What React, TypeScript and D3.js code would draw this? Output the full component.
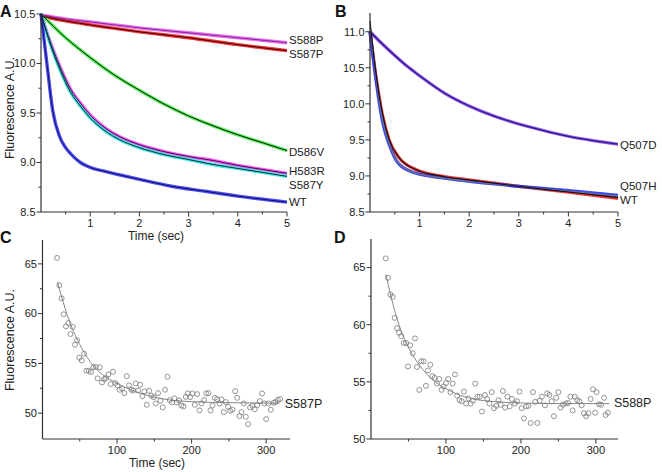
import React from "react";
import * as d3 from "d3";

type P = [number, number];

// ---------- Panel A (stopped-flow traces, Time in sec) ----------
const tickTimeAB = [1, 2, 3, 4, 5];
const minorTimeAB = [0.5, 1.5, 2.5, 3.5, 4.5];
const yTicksA = [8.5, 9.0, 9.5, 10.0, 10.5];
const yMinorA = [8.75, 9.25, 9.75, 10.25];

const s588pA: P[] = [[0, 10.49], [0.5, 10.45], [1, 10.42], [2, 10.36], [3, 10.31], [4, 10.26], [5, 10.21]];
const s587pA: P[] = [[0, 10.48], [0.5, 10.43], [1, 10.39], [2, 10.32], [3, 10.26], [4, 10.19], [5, 10.13]];
const d586vA: P[] = [[0, 10.5], [0.5, 10.26], [1, 10.06], [1.5, 9.88], [2, 9.73], [2.5, 9.59], [3, 9.47], [3.5, 9.37], [4, 9.28], [4.5, 9.2], [5, 9.12]];
const h583rA: P[] = [[0, 10.5], [0.2, 10.2], [0.4, 9.95], [0.6, 9.74], [0.8, 9.6], [1, 9.48], [1.3, 9.35], [1.6, 9.26], [2, 9.18], [2.5, 9.11], [3, 9.06], [3.5, 9.02], [4, 8.97], [4.5, 8.93], [5, 8.89]];
const s587yA: P[] = [[0, 10.5], [0.2, 10.18], [0.4, 9.92], [0.6, 9.71], [0.8, 9.57], [1, 9.45], [1.3, 9.32], [1.6, 9.23], [2, 9.15], [2.5, 9.08], [3, 9.03], [3.5, 8.98], [4, 8.94], [4.5, 8.9], [5, 8.86]];
const wtA: P[] = [[0, 10.5], [0.06, 10.25], [0.12, 10.0], [0.24, 9.52], [0.38, 9.26], [0.5, 9.15], [0.62, 9.08], [0.8, 9.0], [1, 8.95], [1.3, 8.91], [2, 8.83], [2.65, 8.76], [3.33, 8.71], [4, 8.66], [5, 8.6]];

const namesA = ["S588P", "S587P", "D586V", "H583R", "S587Y", "WT"];
const labelValA = [10.237, 10.096, 9.11, 8.914, 8.773, 8.6];

// ---------- Panel B ----------
const yTicksB = [8.5, 9.0, 9.5, 10.0, 10.5, 11.0];
const yMinorB = [8.75, 9.25, 9.75, 10.25, 10.75];

const q507dB: P[] = [[0, 11.0], [0.25, 10.83], [0.5, 10.67], [0.75, 10.52], [1, 10.39], [1.5, 10.15], [2, 9.97], [2.5, 9.83], [3, 9.72], [3.5, 9.63], [4, 9.55], [4.5, 9.49], [5, 9.44]];
const q507hB: P[] = [[0, 11.0], [0.115, 10.36], [0.25, 9.76], [0.385, 9.44], [0.59, 9.16], [0.92, 9.04], [1.5, 8.97], [1.94, 8.93], [2.95, 8.86], [3.96, 8.8], [5, 8.73]];
const wtB: P[] = [[0, 11.0], [0.115, 10.41], [0.25, 9.85], [0.385, 9.5], [0.59, 9.25], [0.92, 9.09], [1.5, 8.99], [1.94, 8.95], [2.95, 8.86], [3.96, 8.78], [5, 8.69]];
const q507hFitB: P[] = [[0, 11.1], [0.115, 10.4], [0.25, 9.78], [0.385, 9.45], [0.59, 9.17], [0.92, 9.04], [1.5, 8.97], [1.94, 8.93], [2.95, 8.86], [3.96, 8.79], [5, 8.72]];
const wtFitB: P[] = [[0, 11.15], [0.115, 10.45], [0.25, 9.87], [0.385, 9.51], [0.59, 9.25], [0.92, 9.09], [1.5, 8.99], [1.94, 8.95], [2.95, 8.86], [3.96, 8.78], [5, 8.7]];

const namesB = ["Q507D", "Q507H", "WT"];
const labelValB = [9.43, 8.861, 8.666];

// ---------- Panel C (S587P, Time in sec) ----------
const tickTimeCD = [100, 200, 300];
const minorTimeCD = [50, 150, 250];
const yTicksCD = [50, 55, 60, 65];
const yMinorCD = [52.5, 57.5, 62.5];

const timesC = [19.5, 22.6, 25.7, 28.4, 31.5, 34.7, 37.4, 40.5, 43.6, 46.3, 49.4, 52.6, 55.7, 58.8, 62.0, 65.1, 68.2, 71.4, 74.0, 76.7, 79.9, 82.6, 85.2, 88.4, 91.5, 94.6, 97.8, 100.4, 103.5, 106.7, 109.8, 113.0, 116.1, 119.2, 121.9, 125.1, 128.2, 130.9, 134.0, 136.7, 139.8, 143.0, 146.1, 149.2, 151.9, 155.0, 158.2, 161.3, 164.4, 167.6, 170.7, 173.8, 176.9, 180.1, 183.2, 186.4, 189.0, 192.2, 194.9, 198.0, 201.1, 204.3, 207.4, 210.5, 213.2, 216.8, 219.5, 222.6, 225.3, 228.0, 231.1, 234.2, 237.4, 240.0, 243.2, 245.9, 249.0, 251.7, 254.8, 258.4, 261.1, 264.2, 266.9, 270.0, 272.7, 275.8, 278.5, 281.6, 284.8, 287.9, 291.5, 294.6, 297.3, 300.0, 303.1, 306.3, 309.9, 312.5, 315.7, 318.8];
const valuesC = [65.6, 62.85, 61.54, 59.93, 58.72, 59.06, 57.95, 58.66, 56.88, 57.32, 55.57, 55.3, 55.97, 54.26, 54.26, 54.13, 54.63, 54.63, 53.49, 54.6, 53.09, 53.42, 53.52, 53.89, 52.92, 54.16, 53.02, 52.79, 52.35, 52.48, 52.01, 53.72, 52.79, 52.35, 52.28, 52.99, 52.28, 52.85, 51.71, 52.18, 50.84, 52.25, 51.74, 51.61, 50.97, 52.01, 51.24, 50.57, 52.35, 53.66, 51.31, 51.07, 51.48, 51.07, 51.28, 50.77, 50.67, 51.64, 51.98, 51.61, 51.98, 50.84, 51.91, 50.27, 50.97, 51.31, 51.98, 52.01, 50.27, 50.77, 51.54, 51.41, 50.97, 51.38, 50.1, 51.11, 50.64, 50.23, 50.34, 52.21, 51.54, 49.7, 50.1, 50.97, 49.63, 48.89, 50.57, 50.74, 50.4, 50.81, 51.21, 51.98, 50.97, 49.4, 50.97, 50.34, 51.04, 51.11, 51.34, 51.41];
const fitC: P[] = [[20, 63.2], [30, 60.6], [40, 58.5], [50, 56.9], [60, 55.6], [70, 54.6], [80, 53.9], [100, 53.0], [120, 52.3], [140, 51.8], [160, 51.45], [200, 51.15], [250, 51.05], [318, 51.0]];

// ---------- Panel D (S588P) ----------
const timesD = [19.6, 22.7, 25.8, 28.9, 31.6, 34.7, 37.3, 40.4, 43.6, 46.7, 49.3, 52.4, 55.6, 58.7, 61.3, 64.4, 67.1, 70.2, 73.3, 76.0, 79.1, 81.8, 84.9, 88.0, 91.1, 94.2, 96.9, 100.0, 103.0, 106.0, 109.0, 112.0, 115.0, 118.0, 121.0, 124.0, 127.0, 130.0, 133.0, 136.0, 139.0, 142.0, 145.0, 148.0, 152.0, 155.0, 158.0, 161.0, 164.0, 167.0, 170.0, 173.0, 176.0, 179.0, 182.0, 185.0, 188.0, 192.0, 195.0, 198.0, 201.0, 204.0, 207.0, 210.0, 213.0, 216.0, 219.0, 222.0, 225.0, 228.0, 232.0, 235.0, 238.0, 241.0, 244.0, 247.0, 250.0, 253.0, 256.0, 260.0, 263.0, 266.0, 269.0, 272.0, 275.0, 278.0, 281.0, 284.0, 287.0, 290.0, 293.0, 296.0, 299.0, 301.0, 304.0, 307.0, 311.0, 313.0, 316.0];
const valuesD = [65.8, 64.1, 62.65, 62.45, 60.6, 59.7, 59.3, 59.0, 58.4, 58.4, 56.35, 58.2, 57.5, 58.8, 56.3, 54.3, 56.8, 56.8, 54.65, 56.0, 56.5, 55.5, 55.35, 54.85, 55.25, 54.3, 54.6, 54.9, 55.25, 54.1, 54.85, 55.65, 53.8, 53.4, 53.3, 54.15, 53.1, 53.55, 53.1, 53.35, 54.85, 53.7, 53.7, 52.4, 53.85, 53.5, 53.1, 54.1, 52.7, 52.9, 53.4, 53.0, 54.2, 52.75, 53.7, 52.85, 53.5, 53.1, 53.3, 54.15, 52.7, 51.8, 52.85, 52.9, 51.4, 54.1, 53.25, 51.4, 53.35, 53.7, 52.95, 54.0, 53.85, 53.3, 52.0, 53.6, 54.1, 52.75, 53.0, 53.1, 53.15, 53.7, 52.5, 53.7, 53.4, 53.3, 52.95, 52.25, 52.0, 52.25, 53.5, 54.35, 52.3, 54.1, 53.05, 53.0, 53.6, 52.1, 52.3];
const fitD: P[] = [[20, 64.4], [30, 61.6], [40, 59.5], [50, 58.0], [60, 56.9], [70, 56.0], [80, 55.3], [90, 54.8], [100, 54.4], [120, 53.8], [140, 53.45], [160, 53.3], [200, 53.15], [250, 53.1], [318, 53.1]];

const FONT = "'Liberation Sans', Arial, Helvetica, sans-serif";
const AX = "#333";

type Scale = d3.ScaleLinear<number, number>;

function YAxis({ x, scale, major, minor, fmt }: { x: number; scale: Scale; major: number[]; minor: number[]; fmt: (v: number) => string }) {
  const [r0, r1] = scale.range();
  return (
    <g>
      <line x1={x} x2={x} y1={Math.min(r0, r1)} y2={Math.max(r0, r1)} stroke={AX} strokeWidth={1.2} />
      {major.map((v) => (
        <g key={"M" + v}>
          <line x1={x - 4.5} x2={x} y1={scale(v)} y2={scale(v)} stroke={AX} strokeWidth={1} />
          <text x={x - 5.5} y={scale(v)} dy="0.35em" textAnchor="end" fontSize={11} fill="#222">{fmt(v)}</text>
        </g>
      ))}
      {minor.map((v) => (
        <line key={"m" + v} x1={x - 2.5} x2={x} y1={scale(v)} y2={scale(v)} stroke={AX} strokeWidth={1} />
      ))}
    </g>
  );
}

function XAxis({ y, scale, major, minor }: { y: number; scale: Scale; major: number[]; minor: number[] }) {
  const [r0, r1] = scale.range();
  return (
    <g>
      <line x1={r0} x2={r1} y1={y} y2={y} stroke={AX} strokeWidth={1.2} />
      {major.map((v) => (
        <g key={"M" + v}>
          <line x1={scale(v)} x2={scale(v)} y1={y} y2={y + 4.5} stroke={AX} strokeWidth={1} />
          <text x={scale(v)} y={y + 15} textAnchor="middle" fontSize={11} fill="#222">{v}</text>
        </g>
      ))}
      {minor.map((v) => (
        <line key={"m" + v} x1={scale(v)} x2={scale(v)} y1={y} y2={y + 2.5} stroke={AX} strokeWidth={1} />
      ))}
    </g>
  );
}

function mkLine(xs: Scale, ys: Scale) {
  return d3.line<P>().x((d) => xs(d[0])).y((d) => ys(d[1])).curve(d3.curveMonotoneX);
}

export default function App() {
  const xA = d3.scaleLinear().domain([0, 5]).range([41, 287]);
  const yA = d3.scaleLinear().domain([8.5, 10.51]).range([212, 13]);
  const lA = mkLine(xA, yA);
  const seriesA = [
    { d: s588pA, data: "#ee5cee", fit: "#7a2c98" },
    { d: s587pA, data: "#f02020", fit: "#3a0000" },
    { d: d586vA, data: "#3ef03e", fit: "#141414" },
    { d: h583rA, data: "#ff44ff", fit: "#3a103a" },
    { d: s587yA, data: "#2ee6e6", fit: "#0a2a2a" },
    { d: wtA, data: "#3a3aff", fit: "#12125a" },
  ];

  const xB = d3.scaleLinear().domain([0, 5]).range([370, 618]);
  const yB = d3.scaleLinear().domain([8.5, 11.26]).range([212, 13]);
  const lB = mkLine(xB, yB);

  const xC = d3.scaleLinear().domain([0, 332]).range([42.5, 290]);
  const yC = d3.scaleLinear().domain([47.4, 67.4]).range([439, 240]);
  const lC = mkLine(xC, yC);

  const xD = d3.scaleLinear().domain([0, 329.5]).range([371, 618]);
  const yD = d3.scaleLinear().domain([50, 67.5]).range([439, 239]);
  const lD = mkLine(xD, yD);

  const f1 = (v: number) => v.toFixed(1);
  const f0 = (v: number) => String(v);

  return (
    <svg width={662} height={472} viewBox="0 0 662 472" style={{ position: "absolute", left: 0, top: 0, background: "#fff" }} fontFamily={FONT}>
      <rect x={0} y={0} width={662} height={472} fill="#fff" />

      <text x={0} y={16.5} fontSize={16} fontWeight="bold" fill="#111">A</text>
      <text x={335} y={16.5} fontSize={16} fontWeight="bold" fill="#111">B</text>
      <text x={0} y={242.5} fontSize={16} fontWeight="bold" fill="#111">C</text>
      <text x={334} y={242.5} fontSize={16} fontWeight="bold" fill="#111">D</text>

      {/* ---------- Panel A ---------- */}
      <g>
        {seriesA.map((s, i) => (
          <path key={"da" + i} d={lA(s.d) || ""} fill="none" stroke={s.data} strokeWidth={3.4} strokeOpacity={0.9} />
        ))}
        {seriesA.map((s, i) => (
          <path key={"fa" + i} d={lA(s.d) || ""} fill="none" stroke={s.fit} strokeWidth={1} />
        ))}
        <YAxis x={41} scale={yA} major={yTicksA} minor={yMinorA} fmt={f1} />
        <XAxis y={212} scale={xA} major={tickTimeAB} minor={minorTimeAB} />
        {namesA.map((n, i) => (
          <text key={n} x={xA(5) + 2} y={yA(labelValA[i])} dy="0.35em" fontSize={11.5} fill="#222">{n}</text>
        ))}
        <text transform={`translate(14,${108}) rotate(-90)`} textAnchor="middle" fontSize={12.5} fill="#222">Fluorescence A.U.</text>
        <text x={156} y={240} textAnchor="middle" fontSize={12} fill="#222">Time (sec)</text>
      </g>

      {/* ---------- Panel B ---------- */}
      <g>
        <path d={lB(q507dB) || ""} fill="none" stroke="#8a4ae8" strokeWidth={3.2} strokeOpacity={0.9} />
        <path d={lB(wtB) || ""} fill="none" stroke="#ee2222" strokeWidth={3.2} strokeOpacity={0.9} />
        <path d={lB(q507hB) || ""} fill="none" stroke="#2535f0" strokeWidth={3.2} strokeOpacity={0.9} />
        <path d={lB(q507dB) || ""} fill="none" stroke="#301890" strokeWidth={1.3} />
        <path d={lB(q507hFitB) || ""} fill="none" stroke="#777" strokeWidth={1.1} />
        <path d={lB(wtFitB) || ""} fill="none" stroke="#111" strokeWidth={1.1} />
        <YAxis x={370} scale={yB} major={yTicksB} minor={yMinorB} fmt={f1} />
        <XAxis y={212} scale={xB} major={tickTimeAB} minor={minorTimeAB} />
        {namesB.map((n, i) => (
          <text key={n} x={xB(5) + 2} y={yB(labelValB[i])} dy="0.35em" fontSize={11.5} fill="#222">{n}</text>
        ))}
      </g>

      {/* ---------- Panel C ---------- */}
      <g>
        <path d={lC(fitC) || ""} fill="none" stroke="#888" strokeWidth={1} />
        {timesC.map((t, i) => (
          <circle key={"c" + i} cx={xC(t)} cy={yC(valuesC[i])} r={2.5} fill="none" stroke="#7a7a7a" strokeWidth={0.8} />
        ))}
        <YAxis x={42.5} scale={yC} major={yTicksCD} minor={yMinorCD} fmt={f0} />
        <XAxis y={439} scale={xC} major={tickTimeCD} minor={minorTimeCD} />
        <text x={xC(325)} y={yC(51.0)} dy="0.35em" fontSize={12.5} fill="#222">S587P</text>
        <text transform={`translate(14,${340}) rotate(-90)`} textAnchor="middle" fontSize={12.5} fill="#222">Fluorescence A.U.</text>
        <text x={157} y={467} textAnchor="middle" fontSize={12} fill="#222">Time (sec)</text>
      </g>

      {/* ---------- Panel D ---------- */}
      <g>
        <path d={lD(fitD) || ""} fill="none" stroke="#888" strokeWidth={1} />
        {timesD.map((t, i) => (
          <circle key={"d" + i} cx={xD(t)} cy={yD(valuesD[i])} r={2.5} fill="none" stroke="#7a7a7a" strokeWidth={0.8} />
        ))}
        <YAxis x={371} scale={yD} major={yTicksCD} minor={yMinorCD} fmt={f0} />
        <XAxis y={439} scale={xD} major={tickTimeCD} minor={minorTimeCD} />
        <text x={xD(324)} y={yD(53.15)} dy="0.35em" fontSize={12.5} fill="#222">S588P</text>
      </g>
    </svg>
  );
}
